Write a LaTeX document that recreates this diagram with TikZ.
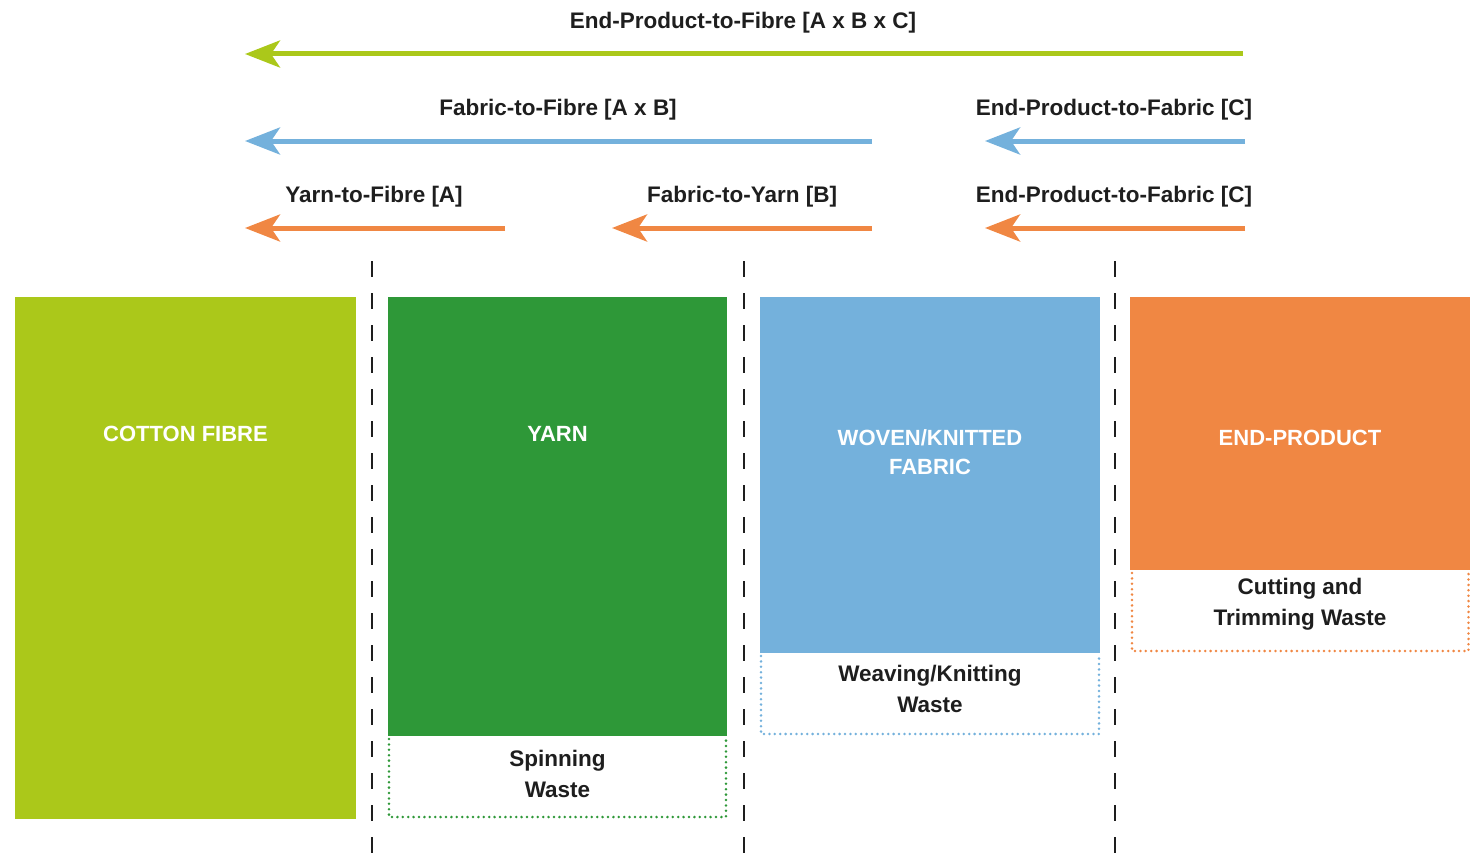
\documentclass[tikz,border=0pt]{standalone}
\usepackage{fontspec}
\setmainfont{Liberation Sans}
\usetikzlibrary{arrows.meta,positioning}
\definecolor{fibregreen}{HTML}{ABC81A}
\definecolor{yarngreen}{HTML}{2E9838}
\definecolor{fabricblue}{HTML}{74B1DC}
\definecolor{productorange}{HTML}{F08743}
\definecolor{labelgrey}{HTML}{1E1E1E}
\tikzset{
    % Arrows
    arrow tip/.tip={Stealth[length=35pt,width=27pt,inset=9pt]},
    flow/.style={line width=5pt,-{arrow tip},color=#1},
    flow label/.style={font=\fontsize{22.5}{26}\selectfont\bfseries,text=labelgrey,inner sep=0pt},
    %
    % Boxes
    stage label/.style={font=\fontsize{22}{29}\selectfont\bfseries,text=white,align=center,inner sep=0pt},
    waste/.style={draw=#1,line width=2.8pt,line cap=round,dash pattern=on 0pt off 5.4pt},
    waste label/.style={font=\fontsize{22.5}{30.5}\selectfont\bfseries,text=labelgrey,align=center,inner sep=0pt},
    %
    % Separators
    divider/.style={line width=2.8pt,color=labelgrey,dash pattern=on 16pt off 16pt}
}

\begin{document}
\begin{tikzpicture}[x=1pt,y=-1pt]
    \useasboundingbox (0,0) rectangle (1470,859);
    % arrows, top row
    \coordinate (abcS) at (1243,54);
    \coordinate (abcE) at (245,54);
    \draw[flow=fibregreen] (abcS) -- (abcE);
    \node[flow label] (abcL) at (743,23) {End-Product-to-Fibre [A x B x C]};
    % arrows, middle row
    \coordinate (abS) at (872,141);
    \coordinate (abE) at (245,141);
    \coordinate (cbS) at (1245,141);
    \coordinate (cbE) at (985,141);
    \draw[flow=fabricblue] (abS) -- (abE);
    \draw[flow=fabricblue] (cbS) -- (cbE);
    \node[flow label] (abL) at (558,110) {Fabric-to-Fibre [A x B]};
    \node[flow label] (cbL) at (1114,110) {End-Product-to-Fabric [C]};
    % arrows, bottom row
    \coordinate (aS) at (505,228);
    \coordinate (aE) at (245,228);
    \coordinate (bS) at (872,228);
    \coordinate (bE) at (612,228);
    \coordinate (cS) at (1245,228);
    \coordinate (cE) at (985,228);
    \foreach \s/\e in {aS/aE,bS/bE,cS/cE}{
        \draw[flow=productorange] (\s) -- (\e);
    }
    \node[flow label] (aL) at (374,197) {Yarn-to-Fibre [A]};
    \node[flow label] (bL) at (742,197) {Fabric-to-Yarn [B]};
    \node[flow label] (cL) at (1114,197) {End-Product-to-Fabric [C]};
    % dividers
    \foreach \x in {372,744,1115}{
        \draw[divider] (\x,261) -- (\x,859);
    }
    % stages
    \fill[fibregreen] (15,297) rectangle (356,819);
    \node[stage label] (fibre) at (185.5,434) {COTTON FIBRE};
    \fill[yarngreen] (388,297) rectangle (727,736);
    \node[stage label] (yarn) at (557.5,434) {YARN};
    \fill[fabricblue] (760,297) rectangle (1100,653);
    \node[stage label] (fabric) at (930,452) {WOVEN/KNITTED\\FABRIC};
    \fill[productorange] (1130,297) rectangle (1470,570);
    \node[stage label] (product) at (1300,438) {END-PRODUCT};
    % waste
    \draw[waste=yarngreen] (389,739) -- (389,817) -- (726,817) -- (726,739);
    \node[waste label] (spin) at (557.5,774) {Spinning\\Waste};
    \draw[waste=fabricblue] (761,656) -- (761,734) -- (1099,734) -- (1099,656);
    \node[waste label] (weave) at (930,689) {Weaving/Knitting\\Waste};
    \draw[waste=productorange] (1132,573) -- (1132,651) -- (1468.5,651) -- (1468.5,573);
    \node[waste label] (cut) at (1300,604) {Cutting and\\Trimming Waste};
\end{tikzpicture}
\end{document}
